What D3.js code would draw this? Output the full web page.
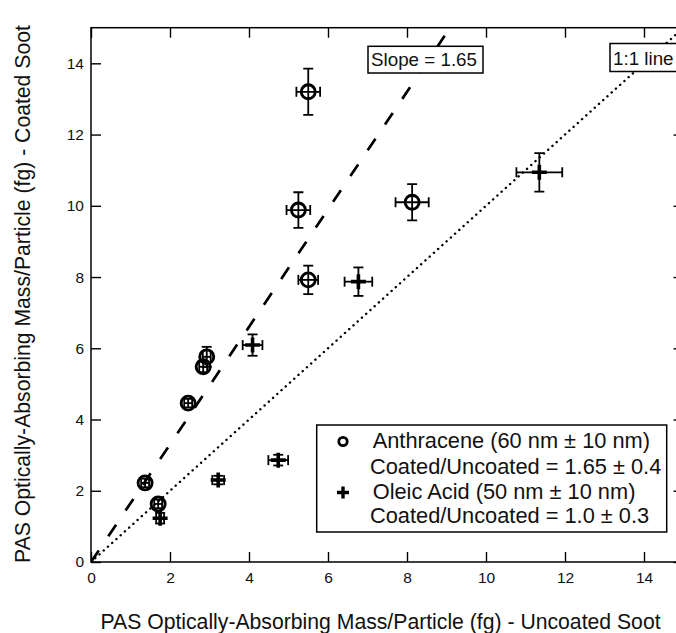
<!DOCTYPE html>
<html>
<head>
<meta charset="utf-8">
<script src="https://cdn.jsdelivr.net/npm/d3@7"></script>
<style>
  html, body { margin: 0; padding: 0; background: #fff; }
  svg { display: block; font-family: "Liberation Sans", Arial, Helvetica, sans-serif; }
</style>
</head>
<body>
<div id="chart"></div>
<script>
// ---- data ----
const anthX    = [1.37, 1.70, 2.46, 2.84, 2.93, 5.25, 5.50, 5.50, 8.13];
const anthY    = [2.22, 1.63, 4.46, 5.48, 5.76, 9.88, 13.20, 7.92, 10.10];
const anthXErr = [0.10, 0.10, 0.10, 0.10, 0.10, 0.30, 0.30, 0.25, 0.42];
const anthYErr = [0.12, 0.12, 0.12, 0.15, 0.28, 0.50, 0.65, 0.40, 0.51];

const oleicX    = [1.75, 3.22, 4.74, 4.09, 6.77, 11.35];
const oleicY    = [1.23, 2.30, 2.86, 6.09, 7.87, 10.94];
const oleicXErr = [0.10, 0.15, 0.25, 0.25, 0.35, 0.58];
const oleicYErr = [0.15, 0.12, 0.15, 0.30, 0.40, 0.54];

const xTicks = [0, 2, 4, 6, 8, 10, 12, 14];
const yTicks = [0, 2, 4, 6, 8, 10, 12, 14];
const xDomain = [0, 15];
const yDomain = [0, 15];

const refSlopes = [1.65, 1.0];
const refLabels = ["Slope = 1.65", "1:1 line"];

const legendLines = [
  "Anthracene (60 nm \u00b1 10 nm)",
  "Coated/Uncoated = 1.65 \u00b1 0.4",
  "Oleic Acid (50 nm \u00b1 10 nm)",
  "Coated/Uncoated = 1.0 \u00b1 0.3"
];
const xTitle = "PAS Optically-Absorbing Mass/Particle (fg) - Uncoated Soot";
const yTitle = "PAS Optically-Absorbing Mass/Particle (fg) - Coated Soot";

// ---- layout ----
const W = 676, H = 633;
const L = 91, R = 683.5, T = 27.7, B = 562;

const svg = d3.select("#chart").append("svg")
  .attr("width", W).attr("height", H);

const x = d3.scaleLinear().domain(xDomain).range([L, R]);
const y = d3.scaleLinear().domain(yDomain).range([B, T]);

svg.append("defs").append("clipPath").attr("id", "plotclip")
  .append("rect").attr("x", L).attr("y", T).attr("width", R - L).attr("height", B - T);

// axes (ticks inside)
const tickStyle = g => {
  g.select(".domain").remove();
  g.selectAll(".tick line").attr("stroke", "#000").attr("stroke-width", 1.4);
  g.selectAll(".tick text").attr("fill", "#111").attr("font-size", 15.5);
};
svg.append("g").attr("transform", `translate(0,${B})`)
  .call(d3.axisBottom(x).tickValues(xTicks).tickSize(-10).tickPadding(10).tickFormat(d3.format("d")))
  .call(tickStyle);
svg.append("g").attr("transform", `translate(0,${T})`)
  .call(d3.axisTop(x).tickValues(xTicks).tickSize(-10).tickFormat(""))
  .call(tickStyle);
svg.append("g").attr("transform", `translate(${L},0)`)
  .call(d3.axisLeft(y).tickValues(yTicks).tickSize(-10).tickPadding(7).tickFormat(d3.format("d")))
  .call(tickStyle);
svg.append("g").attr("transform", `translate(${R},0)`)
  .call(d3.axisRight(y).tickValues(yTicks).tickSize(-10).tickFormat(""))
  .call(tickStyle);

// frame
svg.append("rect").attr("x", L).attr("y", T).attr("width", R - L).attr("height", B - T)
  .attr("fill", "none").attr("stroke", "#000").attr("stroke-width", 1.5);

// reference lines
const plot = svg.append("g").attr("clip-path", "url(#plotclip)");
const lineGen = d3.line().x(d => x(d[0])).y(d => y(d[1]));
plot.append("path")
  .attr("d", lineGen([[0, 0], [15, 15 * refSlopes[0]]]))
  .attr("fill", "none").attr("stroke", "#000").attr("stroke-width", 2.7)
  .attr("stroke-dasharray", "14 17");
plot.append("path")
  .attr("d", lineGen([[0, 0], [15, 15 * refSlopes[1]]]))
  .attr("fill", "none").attr("stroke", "#000").attr("stroke-width", 2.4)
  .attr("stroke-linecap", "round")
  .attr("stroke-dasharray", "0.1 5.6");

// annotation boxes
function annot(label, x0, x1, ytop, ybot) {
  const g = svg.append("g");
  g.append("rect").attr("x", x(x0)).attr("y", y(ytop))
    .attr("width", x(x1) - x(x0)).attr("height", y(ybot) - y(ytop))
    .attr("fill", "#fff").attr("stroke", "#000").attr("stroke-width", 1.5);
  g.append("text").attr("x", x(x0) + 3).attr("y", y(ybot) - 7)
    .attr("font-size", 18.8).attr("fill", "#111").text(label);
}
annot(refLabels[0], x.invert(368), x.invert(483), y.invert(46.3), y.invert(73));
annot(refLabels[1], x.invert(610), x.invert(688), y.invert(43.5), y.invert(71.5));

// error bars + markers
const cap = 5;
function errorBars(xs, ys, xe, ye) {
  const g = plot.append("g").attr("stroke", "#000").attr("stroke-width", 1.8).attr("fill", "none");
  xs.forEach((xv, i) => {
    const cx = x(xv), cy = y(ys[i]);
    const x0 = x(xv - xe[i]), x1 = x(xv + xe[i]);
    const y0 = y(ys[i] - ye[i]), y1 = y(ys[i] + ye[i]);
    g.append("line").attr("x1", x0).attr("x2", x1).attr("y1", cy).attr("y2", cy);
    g.append("line").attr("x1", x0).attr("x2", x0).attr("y1", cy - cap).attr("y2", cy + cap);
    g.append("line").attr("x1", x1).attr("x2", x1).attr("y1", cy - cap).attr("y2", cy + cap);
    g.append("line").attr("x1", cx).attr("x2", cx).attr("y1", y0).attr("y2", y1);
    g.append("line").attr("x1", cx - cap).attr("x2", cx + cap).attr("y1", y0).attr("y2", y0);
    g.append("line").attr("x1", cx - cap).attr("x2", cx + cap).attr("y1", y1).attr("y2", y1);
  });
}
errorBars(anthX, anthY, anthXErr, anthYErr);
errorBars(oleicX, oleicY, oleicXErr, oleicYErr);

plot.append("g").selectAll("circle").data(anthX).join("circle")
  .attr("cx", d => x(d)).attr("cy", (d, i) => y(anthY[i])).attr("r", 7)
  .attr("fill", "none").attr("stroke", "#000").attr("stroke-width", 2.9);

const plusPath = (cx, cy, a) => `M${cx - a},${cy}H${cx + a}M${cx},${cy - a}V${cy + a}`;
plot.append("g").selectAll("path").data(oleicX).join("path")
  .attr("d", (d, i) => plusPath(x(d), y(oleicY[i]), 7.5))
  .attr("stroke", "#000").attr("stroke-width", 3.6).attr("fill", "none");

// legend
const lg = svg.append("g");
lg.append("rect").attr("x", 316.7).attr("y", 425).attr("width", 350).attr("height", 107)
  .attr("fill", "#fff").attr("stroke", "#000").attr("stroke-width", 1.5);
lg.append("circle").attr("cx", 343).attr("cy", 441.5).attr("r", 4.2)
  .attr("fill", "none").attr("stroke", "#000").attr("stroke-width", 2.8);
lg.append("path").attr("d", plusPath(343, 492.5, 6))
  .attr("stroke", "#000").attr("stroke-width", 3.4).attr("fill", "none");
const lgX = [372.7, 370, 372.7, 370];
const lgY = [448, 473.5, 499, 523];
legendLines.forEach((t, i) => {
  lg.append("text").attr("x", lgX[i]).attr("y", lgY[i])
    .attr("font-size", 21.8).attr("fill", "#111").text(t);
});

// axis titles
svg.append("text").attr("x", 380.5).attr("y", 629).attr("text-anchor", "middle")
  .attr("font-size", 21.2).attr("fill", "#111").text(xTitle);
svg.append("text").attr("transform", "translate(30,294) rotate(-90)")
  .attr("text-anchor", "middle").attr("font-size", 21.2).attr("fill", "#111").text(yTitle);
</script>
</body>
</html>
